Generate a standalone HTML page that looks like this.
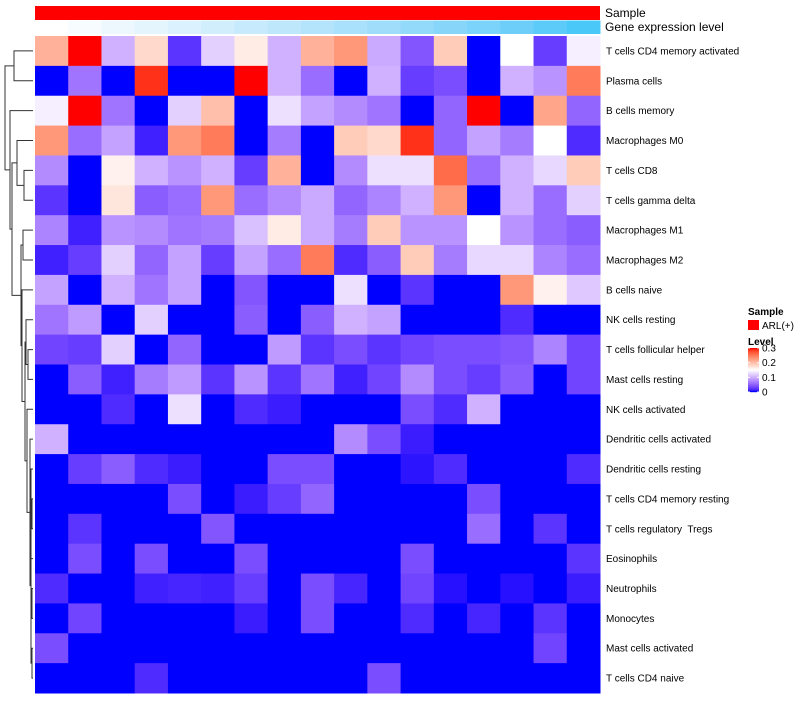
<!DOCTYPE html>
<html><head><meta charset="utf-8"><style>
body{margin:0;background:#fff;font-family:"Liberation Sans",sans-serif}
svg text{font-family:"Liberation Sans",sans-serif;white-space:pre}
</style></head><body>
<svg id="c" width="800" height="700" xmlns="http://www.w3.org/2000/svg"></svg>
<script>
const rowLabels=["T cells CD4 memory activated","Plasma cells","B cells memory","Macrophages M0","T cells CD8","T cells gamma delta","Macrophages M1","Macrophages M2","B cells naive","NK cells resting","T cells follicular helper","Mast cells resting","NK cells activated","Dendritic cells activated","Dendritic cells resting","T cells CD4 memory resting","T cells regulatory  Tregs","Eosinophils","Neutrophils","Monocytes","Mast cells activated","T cells CD4 naive"];
const r0=[0.21,0.3,0.10,0.18,0.02,0.12,0.165,0.10,0.21,0.23,0.095,0.04,0.19,0,0.15,0.025,0.14];
const r1=[0,0.06,0,0.29,0,0,0.3,0.10,0.055,0,0.10,0.025,0.035,0,0.10,0.08,0.25];
const r2=[0.14,0.3,0.06,0,0.12,0.20,0,0.13,0.09,0.075,0.06,0,0.05,0.3,0,0.22,0.05];
const r3=[0.23,0.055,0.09,0.01,0.23,0.25,0,0.065,0,0.19,0.18,0.29,0.05,0.09,0.065,0.15,0.015];
const r4=[0.075,0,0.16,0.10,0.08,0.10,0.025,0.21,0,0.075,0.13,0.13,0.26,0.055,0.10,0.125,0.19];
const r5=[0.02,0,0.17,0.045,0.055,0.23,0.055,0.075,0.095,0.05,0.07,0.10,0.23,0,0.10,0.055,0.12];
const r6=[0.07,0.01,0.08,0.075,0.06,0.065,0.11,0.165,0.095,0.065,0.19,0.08,0.08,0.15,0.08,0.055,0.045];
const r7=[0.01,0.025,0.12,0.05,0.09,0.025,0.09,0.055,0.25,0.015,0.045,0.19,0.065,0.125,0.125,0.07,0.055];
const r8=[0.09,0,0.10,0.06,0.09,0,0.04,0,0,0.13,0,0.02,0,0,0.23,0.16,0.115];
const r9=[0.06,0.085,0,0.12,0,0,0.045,0,0.045,0.10,0.09,0,0,0,0.015,0,0];
const r10=[0.03,0.025,0.12,0,0.05,0,0,0.085,0.02,0.035,0.02,0.03,0.035,0.035,0.04,0.07,0.03];
const r11=[0,0.045,0.01,0.065,0.085,0.02,0.08,0.02,0.06,0.01,0.03,0.075,0.035,0.025,0.045,0,0.03];
const r12=[0,0,0.015,0,0.13,0,0.015,0.008,0,0,0,0.035,0.015,0.10,0,0,0];
const r13=[0.10,0,0,0,0,0,0,0,0,0.075,0.035,0.008,0,0,0,0,0];
const r14=[0,0.025,0.045,0.015,0.008,0,0,0.035,0.035,0,0,0.005,0.015,0,0,0,0.015];
const r15=[0,0,0,0,0.035,0,0.008,0.025,0.05,0,0,0,0,0.035,0,0,0];
const r16=[0,0.02,0,0,0,0.04,0,0,0,0,0,0,0,0.055,0,0.02,0];
const r17=[0,0.035,0,0.035,0,0,0.035,0,0,0,0,0.035,0,0,0,0,0.02];
const r18=[0.015,0,0,0.01,0.012,0.01,0.025,0,0.035,0.012,0,0.03,0.004,0,0.004,0,0.008];
const r19=[0,0.03,0,0,0,0,0.008,0,0.035,0,0,0.015,0,0.012,0,0.02,0];
const r20=[0.035,0,0,0,0,0,0,0,0,0,0,0,0,0,0,0.03,0];
const r21=[0,0,0,0.015,0,0,0,0,0,0,0.035,0,0,0,0,0,0];
const values=[r0,r1,r2,r3,r4,r5,r6,r7,r8,r9,r10,r11,r12,r13,r14,r15,r16,r17,r18,r19,r20,r21];
const geneLevel=[0,1,2,3,4,5,6,7,8,9,10,11,12,13,14,15,16];
const legendTicks=[0,0.1,0.2,0.3];

const NS="http://www.w3.org/2000/svg";
const svg=document.getElementById('c');
function mk(t,a,p){const e=document.createElementNS(NS,t);for(const k in a)e.setAttribute(k,a[k]);(p||svg).appendChild(e);return e;}
function s2l(c){c/=255;return c<=0.04045?c/12.92:Math.pow((c+0.055)/1.055,2.4);}
function l2s(c){c=c<=0.0031308?12.92*c:1.055*Math.pow(c,1/2.4)-0.055;return Math.max(0,Math.min(255,Math.round(c*255)));}
function toLab(r,g,b){r=s2l(r);g=s2l(g);b=s2l(b);let x=(0.4124*r+0.3576*g+0.1805*b)/0.95047,y=(0.2126*r+0.7152*g+0.0722*b),z=(0.0193*r+0.1192*g+0.9505*b)/1.08883;const f=t=>t>0.008856?Math.cbrt(t):7.787*t+16/116;x=f(x);y=f(y);z=f(z);return[116*y-16,500*(x-y),200*(y-z)];}
function fromLab(L,a,bb){let y=(L+16)/116,x=a/500+y,z=y-bb/200;const f=t=>t*t*t>0.008856?t*t*t:(t-16/116)/7.787;x=f(x)*0.95047;y=f(y);z=f(z)*1.08883;const r=3.2406*x-1.5372*y-0.4986*z,g=-0.9689*x+1.8758*y+0.0415*z,b=0.0557*x-0.2040*y+1.0570*z;return `rgb(${l2s(r)},${l2s(g)},${l2s(b)})`;}
const LB=toLab(0,0,255),LW=toLab(255,255,255),LR=toLab(255,0,0);
function col(v){v=Math.max(0,Math.min(0.3,v));let a,b,t;if(v<0.15){a=LB;b=LW;t=v/0.15;}else{a=LW;b=LR;t=(v-0.15)/0.15;}return fromLab(a[0]+(b[0]-a[0])*t,a[1]+(b[1]-a[1])*t,a[2]+(b[2]-a[2])*t);}
function geneCol(i){const t=i/16;const A=toLab(255,255,255),B=toLab(74,200,248);return fromLab(A[0]+(B[0]-A[0])*t,A[1]+(B[1]-A[1])*t,A[2]+(B[2]-A[2])*t);}

const X0=35,X1=600,Y0=36,Y1=693;
const nC=17,nR=rowLabels.length;
const cw=(X1-X0)/nC,rh=(Y1-Y0)/nR;
const xs=j=>X0+j*cw, ys=i=>Y0+i*rh;

const ann=mk('g',{});


mk('rect',{x:X0,y:6,width:X1-X0,height:14,fill:'#ff0000'},ann);
const gg=mk('g',{});


geneLevel.forEach((g,j)=>{const r=mk('rect',{x:xs(j),y:20.5,width:cw+0.5,height:13.5,fill:geneCol(g)},gg);

});
let t=mk('text',{x:605,y:17,'font-size':12,fill:'#000'});t.textContent='Sample';


t=mk('text',{x:605,y:31,'font-size':12,fill:'#000'});t.textContent='Gene expression level';



const hg=mk('g',{});


values.forEach((row,i)=>{row.forEach((v,j)=>{const r=mk('rect',{x:xs(j),y:ys(i),width:cw+0.5,height:rh+0.5,fill:col(v)},hg);

});
const l=mk('text',{x:606,y:ys(i)+rh/2+3.5,'font-size':10,fill:'#000'});l.textContent=rowLabels[i];

});

const dg=mk('g',{stroke:'#333','stroke-width':1,fill:'none'});


const leaf=33;
function cy(i){return ys(i)+rh/2;}
function link(x,a,b){mk('path',{d:`M${a.x},${a.y}H${x}V${b.y}H${b.x}`},dg);return {x:x,y:(a.y+b.y)/2};}
const L=i=>({x:leaf,y:cy(i)});
let A=link(14,L(0),L(1));
let E=link(24,L(4),L(5));
let D=link(17,L(3),E);
let G=link(23,L(6),L(7));
let N1=link(28,L(10),L(11));
let N2=link(26,L(9),N1);
let Q1=link(32,L(20),L(21));
let Q2=link(32,L(18),L(19));
let Q3=link(31,L(17),Q2);
let Q4=link(32,L(15),L(16));
let Q5=link(31,Q4,Q3);
let Q6=link(31,L(14),Q5);
let Q7=link(31,Q6,Q1);
let Q8=link(30,L(13),Q7);
let Q9=link(27,L(12),Q8);
let H1=link(25,N2,Q9);
let H2=link(22,L(8),H1);
let F=link(21,G,H2);
let C=link(12,D,F);
let R=link(10,L(2),C);
link(5,A,R);

const lg=mk('g',{});


t=mk('text',{x:748,y:315,'font-size':10,'font-weight':'bold'},lg);t.textContent='Sample';
mk('rect',{x:748,y:320,width:11,height:10,fill:'#ff0000'},lg);
t=mk('text',{x:762,y:329,'font-size':10},lg);t.textContent='ARL(+)';
t=mk('text',{x:748,y:345,'font-size':10,'font-weight':'bold'},lg);t.textContent='Level';
const lx=748,ly0=348,ly1=392;
for(let k=0;k<44;k++){const v=0.3*(1-k/43);mk('rect',{x:lx,y:ly0+k,width:11,height:1.2,fill:col(v)},lg);}
legendTicks.forEach(v=>{const y=ly1-(v/0.3)*(ly1-ly0);
mk('line',{x1:lx,x2:lx+2,y1:y,y2:y,stroke:'#fff'},lg);mk('line',{x1:lx+9,x2:lx+11,y1:y,y2:y,stroke:'#fff'},lg);
const tt=mk('text',{x:762,y:y+3.5,'font-size':10},lg);tt.textContent=String(v);

});
</script>
</body></html>
